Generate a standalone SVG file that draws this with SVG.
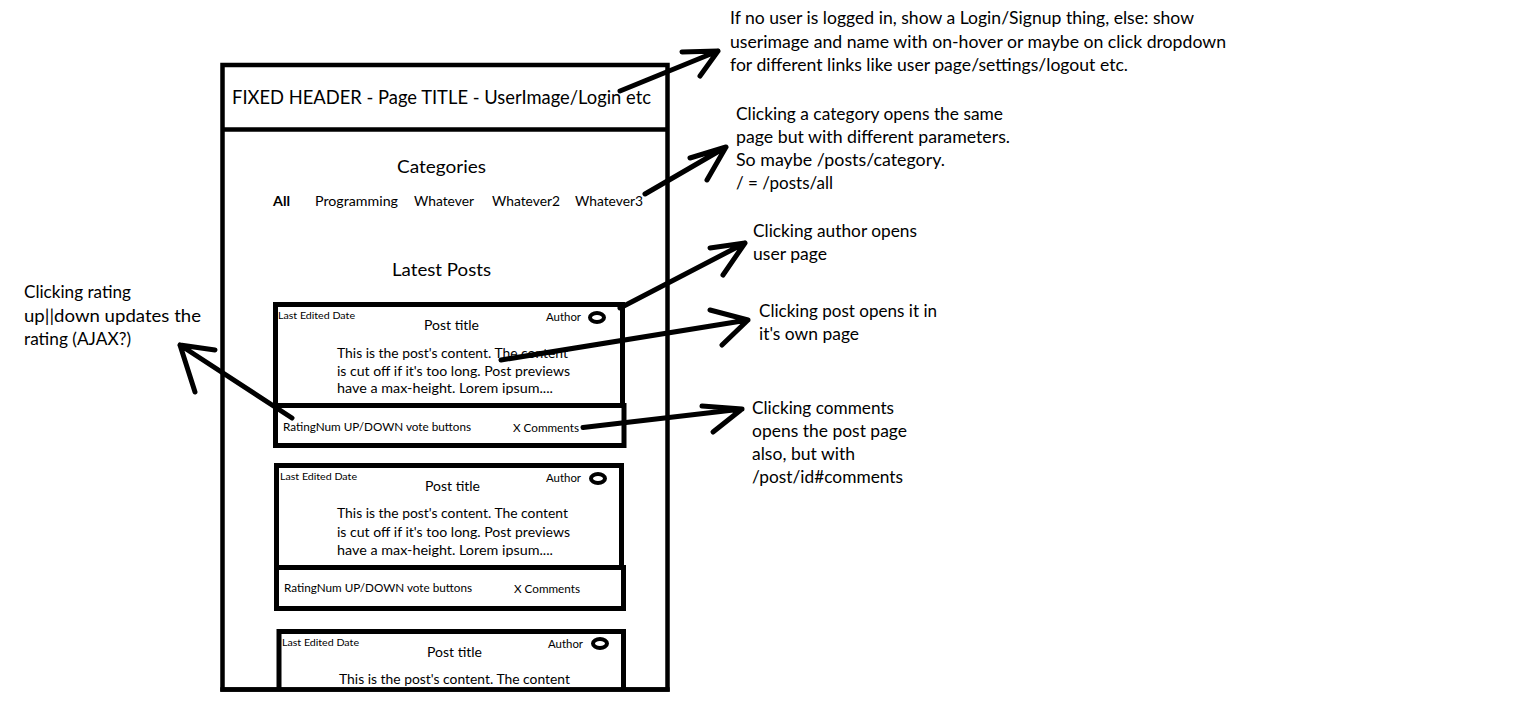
<svg xmlns="http://www.w3.org/2000/svg" width="1526" height="721" viewBox="0 0 1526 721">
<style>
text{font-family:Lato,"Liberation Sans",sans-serif;fill:#000}
.box{fill:none;stroke:#000;stroke-width:5}
.frame{fill:none;stroke:#000;stroke-width:4.5}
.arr{fill:none;stroke:#000;stroke-width:5;stroke-linecap:round;stroke-linejoin:round}
.hdr{font-size:19.5px}
.note{font-size:16.5px}
.sec{font-size:17px}
.cat{font-size:12.5px}
.date{font-size:9.5px}
.auth{font-size:11px}
.title{font-size:13px}
.body{font-size:13px}
.rate{font-size:10.8px}
.dot{fill:none;stroke:#000;stroke-width:4}
</style>
<rect width="1526" height="721" fill="#fff"/>

<g id="frame">
<rect class="frame" x="222.5" y="65" width="445" height="624.5"/>
</g>

<g id="header">
<line class="frame" x1="222.5" y1="129.5" x2="667.5" y2="129.5"/>
<text class="hdr" x="232" y="104" textLength="419" lengthAdjust="spacingAndGlyphs">FIXED HEADER - Page TITLE - UserImage/Login etc</text>
</g>

<g id="categories">
<text class="sec" x="397" y="173" textLength="89" lengthAdjust="spacingAndGlyphs">Categories</text>
<text class="cat" x="273" y="206" font-weight="bold" textLength="17" lengthAdjust="spacingAndGlyphs">All</text>
<text class="cat" x="315" y="206" textLength="83" lengthAdjust="spacingAndGlyphs">Programming</text>
<text class="cat" x="414" y="206" textLength="60" lengthAdjust="spacingAndGlyphs">Whatever</text>
<text class="cat" x="492" y="206" textLength="68" lengthAdjust="spacingAndGlyphs">Whatever2</text>
<text class="cat" x="575" y="206" textLength="68" lengthAdjust="spacingAndGlyphs">Whatever3</text>
</g>

<g id="latest-posts">
<text class="sec" x="392" y="276" textLength="99" lengthAdjust="spacingAndGlyphs">Latest Posts</text>
</g>

<g id="post1">
<rect class="box" x="275.5" y="304.5" width="347" height="101"/>
<rect class="box" x="275.5" y="405.5" width="348.5" height="40"/>
<text class="date" x="278" y="319" textLength="77" lengthAdjust="spacingAndGlyphs">Last Edited Date</text>
<text class="auth" x="546" y="321" textLength="35" lengthAdjust="spacingAndGlyphs">Author</text>
<ellipse class="dot" cx="597" cy="317.5" rx="7" ry="4.5"/>
<text class="title" x="424" y="330" textLength="55" lengthAdjust="spacingAndGlyphs">Post title</text>
<text class="body" x="337" y="357.5" textLength="231" lengthAdjust="spacingAndGlyphs">This is the post's content. The content</text>
<text class="body" x="337" y="375.5" textLength="233" lengthAdjust="spacingAndGlyphs">is cut off if it's too long. Post previews</text>
<text class="body" x="337" y="393" textLength="216" lengthAdjust="spacingAndGlyphs">have a max-height. Lorem ipsum....</text>
<text class="rate" x="283" y="431" textLength="188" lengthAdjust="spacingAndGlyphs">RatingNum UP/DOWN vote buttons</text>
<text class="rate" x="513" y="431.5" textLength="66" lengthAdjust="spacingAndGlyphs">X Comments</text>
</g>

<g id="post2">
<rect class="box" x="276.5" y="465.5" width="345" height="102"/>
<rect class="box" x="276.5" y="567.5" width="347" height="41"/>
<text class="date" x="280" y="480" textLength="77" lengthAdjust="spacingAndGlyphs">Last Edited Date</text>
<text class="auth" x="546" y="482" textLength="35" lengthAdjust="spacingAndGlyphs">Author</text>
<ellipse class="dot" cx="598" cy="478.5" rx="7" ry="4.5"/>
<text class="title" x="425" y="491" textLength="55" lengthAdjust="spacingAndGlyphs">Post title</text>
<text class="body" x="337" y="518" textLength="231" lengthAdjust="spacingAndGlyphs">This is the post's content. The content</text>
<text class="body" x="337" y="536.5" textLength="233" lengthAdjust="spacingAndGlyphs">is cut off if it's too long. Post previews</text>
<text class="body" x="337" y="555" textLength="216" lengthAdjust="spacingAndGlyphs">have a max-height. Lorem ipsum....</text>
<text class="rate" x="284" y="592" textLength="188" lengthAdjust="spacingAndGlyphs">RatingNum UP/DOWN vote buttons</text>
<text class="rate" x="514" y="592.5" textLength="66" lengthAdjust="spacingAndGlyphs">X Comments</text>
</g>

<g id="post3">
<path class="box" d="M279 689 V631.5 H623.5 V689"/>
<text class="date" x="282" y="646" textLength="77" lengthAdjust="spacingAndGlyphs">Last Edited Date</text>
<text class="auth" x="548" y="648" textLength="35" lengthAdjust="spacingAndGlyphs">Author</text>
<ellipse class="dot" cx="600" cy="643.5" rx="7" ry="4.5"/>
<text class="title" x="427" y="657" textLength="55" lengthAdjust="spacingAndGlyphs">Post title</text>
<text class="body" x="339" y="684" textLength="231" lengthAdjust="spacingAndGlyphs">This is the post's content. The content</text>
</g>

<g id="frame-bottom">
<line class="frame" x1="220.3" y1="689.5" x2="669.7" y2="689.5"/>
</g>

<g id="note-header">
<text class="note" x="730" y="24" textLength="464" lengthAdjust="spacingAndGlyphs">If no user is logged in, show a Login/Signup thing, else: show</text>
<text class="note" x="730" y="47.5" textLength="496" lengthAdjust="spacingAndGlyphs">userimage and name with on-hover or maybe on click dropdown</text>
<text class="note" x="730" y="71" textLength="398" lengthAdjust="spacingAndGlyphs">for different links like user page/settings/logout etc.</text>
</g>

<g id="note-category">
<text class="note" x="736" y="120" textLength="267" lengthAdjust="spacingAndGlyphs">Clicking a category opens the same</text>
<text class="note" x="736" y="143" textLength="274" lengthAdjust="spacingAndGlyphs">page but with different parameters.</text>
<text class="note" x="736" y="166" textLength="209" lengthAdjust="spacingAndGlyphs">So maybe /posts/category.</text>
<text class="note" x="736" y="189" textLength="97" lengthAdjust="spacingAndGlyphs">/ = /posts/all</text>
</g>

<g id="note-author">
<text class="note" x="753" y="237" textLength="164" lengthAdjust="spacingAndGlyphs">Clicking author opens</text>
<text class="note" x="753" y="260" textLength="74" lengthAdjust="spacingAndGlyphs">user page</text>
</g>

<g id="note-post">
<text class="note" x="759" y="316.5" textLength="178" lengthAdjust="spacingAndGlyphs">Clicking post opens it in</text>
<text class="note" x="759" y="339.5" textLength="100" lengthAdjust="spacingAndGlyphs">it's own page</text>
</g>

<g id="note-comments">
<text class="note" x="752" y="414" textLength="142" lengthAdjust="spacingAndGlyphs">Clicking comments</text>
<text class="note" x="752" y="437" textLength="155" lengthAdjust="spacingAndGlyphs">opens the post page</text>
<text class="note" x="752" y="460" textLength="103" lengthAdjust="spacingAndGlyphs">also, but with</text>
<text class="note" x="752" y="483" textLength="151" lengthAdjust="spacingAndGlyphs">/post/id#comments</text>
</g>

<g id="note-rating">
<text class="note" x="24" y="298" textLength="107" lengthAdjust="spacingAndGlyphs">Clicking rating</text>
<text class="note" x="24" y="321.5" textLength="177" lengthAdjust="spacingAndGlyphs">up||down updates the</text>
<text class="note" x="24" y="345" textLength="107" lengthAdjust="spacingAndGlyphs">rating (AJAX?)</text>
</g>

<g id="connectors">
<path class="arr" d="M620 91 L718 51 M682 52 L718 51 L700 76"/>
<path class="arr" d="M645 194 L726 147 M690 158 L726 147 L707 180"/>
<path class="arr" d="M620 308 L745 243 M710 248 L745 243 L723 275"/>
<path class="arr" d="M501 360 L748 320 M710 310 L748 320 L722 345"/>
<path class="arr" d="M583 427.5 L742 409 M702 406 L742 409 L713 432"/>
<path class="arr" d="M292 418 L180 345 M215 350 L180 345 L195 392"/>
</g>
</svg>
